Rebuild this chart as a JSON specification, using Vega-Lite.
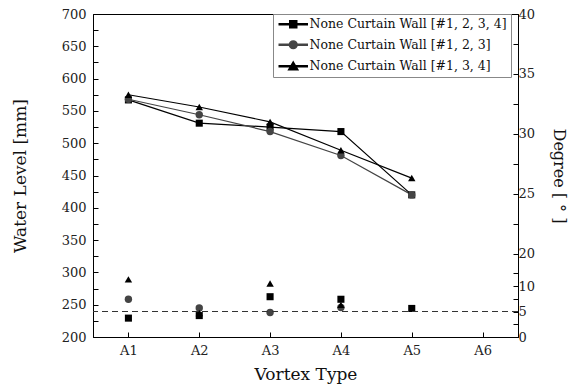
{
  "$schema": "https://vega.github.io/schema/vega-lite/v6.json",
  "width": 425,
  "height": 323,
  "autosize": {"type": "none"},
  "padding": {"left": 93, "top": 14, "right": 64, "bottom": 53},
  "background": "white",
  "config": {
    "font": "DejaVu Serif",
    "view": {"stroke": "#000", "strokeWidth": 1},
    "axis": {
      "grid": false,
      "domainColor": "#000",
      "tickColor": "#000",
      "labelColor": "#222",
      "titleColor": "#111",
      "labelFont": "DejaVu Serif",
      "titleFont": "DejaVu Serif",
      "labelFontSize": 13,
      "titleFontSize": 15,
      "titleFontWeight": "normal",
      "tickSize": -5
    },
    "legend": {
      "orient": "none",
      "legendX": 180,
      "legendY": 0,
      "padding": 4,
      "strokeColor": "#888888",
      "fillColor": "white",
      "symbolSize": 49,
      "symbolOffset": 10,
      "labelOffset": 10,
      "labelFontSize": 12.5,
      "labelFont": "DejaVu Serif",
      "labelColor": "#111111",
      "labelLimit": 0,
      "rowPadding": 6.5
    }
  },
  "data": {
    "values": [
      {"s": "None Curtain Wall [#1, 2, 3, 4]", "x": "A1", "wl": 567, "deg": 3.7},
      {"s": "None Curtain Wall [#1, 2, 3, 4]", "x": "A2", "wl": 531, "deg": 4.2},
      {"s": "None Curtain Wall [#1, 2, 3, 4]", "x": "A3", "wl": 525, "deg": 7.9},
      {"s": "None Curtain Wall [#1, 2, 3, 4]", "x": "A4", "wl": 518, "deg": 7.4},
      {"s": "None Curtain Wall [#1, 2, 3, 4]", "x": "A5", "wl": 420, "deg": 5.6},
      {"s": "None Curtain Wall [#1, 2, 3]", "x": "A1", "wl": 568, "deg": 7.4},
      {"s": "None Curtain Wall [#1, 2, 3]", "x": "A2", "wl": 544, "deg": 5.7},
      {"s": "None Curtain Wall [#1, 2, 3]", "x": "A3", "wl": 518, "deg": 4.8},
      {"s": "None Curtain Wall [#1, 2, 3]", "x": "A4", "wl": 481, "deg": 5.8},
      {"s": "None Curtain Wall [#1, 2, 3]", "x": "A5", "wl": 420, "deg": null},
      {"s": "None Curtain Wall [#1, 3, 4]", "x": "A1", "wl": 575, "deg": 11.3},
      {"s": "None Curtain Wall [#1, 3, 4]", "x": "A2", "wl": 556, "deg": 4.7},
      {"s": "None Curtain Wall [#1, 3, 4]", "x": "A3", "wl": 533, "deg": 10.5},
      {"s": "None Curtain Wall [#1, 3, 4]", "x": "A4", "wl": 489, "deg": 6.3},
      {"s": "None Curtain Wall [#1, 3, 4]", "x": "A5", "wl": 446, "deg": null}
    ]
  },
  "encoding": {
    "x": {
      "field": "x",
      "type": "nominal",
      "scale": {"type": "point", "padding": 0.5, "domain": ["A1", "A2", "A3", "A4", "A5", "A6"]},
      "axis": {"title": "Vortex Type", "labelAngle": 0, "labelPadding": 12, "titlePadding": 9, "titleFontSize": 17}
    },
    "color": {
      "field": "s",
      "type": "nominal",
      "scale": {"domain": ["None Curtain Wall [#1, 2, 3, 4]", "None Curtain Wall [#1, 2, 3]", "None Curtain Wall [#1, 3, 4]"], "range": ["#000000", "#444444", "#000000"]},
      "legend": {"title": null}
    }
  },
  "layer": [
    {
      "encoding": {
        "y": {
          "field": "wl",
          "type": "quantitative",
          "scale": {"domain": [200, 700], "nice": false, "zero": false},
          "axis": {
            "title": "Water Level [mm]",
            "values": [200, 225, 250, 275, 300, 325, 350, 375, 400, 425, 450, 475, 500, 525, 550, 575, 600, 625, 650, 675, 700],
            "labelExpr": "datum.value % 50 === 0 ? datum.label : ''",
            "labelPadding": 12,
            "titlePadding": 32,
            "titleFontSize": 17
          }
        }
      },
      "layer": [
        {"mark": {"type": "line", "strokeWidth": 1.2}},
        {
          "transform": [{"filter": "datum.s === 'None Curtain Wall [#1, 2, 3, 4]'"}],
          "mark": {"type": "point", "filled": true, "opacity": 1, "size": 50, "shape": "square"}
        },
        {
          "transform": [{"filter": "datum.s === 'None Curtain Wall [#1, 2, 3]'"}],
          "mark": {"type": "point", "filled": true, "opacity": 1, "size": 55, "shape": "circle"}
        },
        {
          "transform": [{"filter": "datum.s === 'None Curtain Wall [#1, 3, 4]'"}],
          "mark": {"type": "point", "filled": true, "opacity": 1, "size": 55, "shape": "triangle-up"}
        },
        {
          "transform": [{"filter": "datum.wl > 100000"}],
          "mark": {"type": "point", "filled": true, "opacity": 1, "size": 49},
          "encoding": {
            "shape": {
              "field": "s",
              "type": "nominal",
              "scale": {
                "domain": ["None Curtain Wall [#1, 2, 3, 4]", "None Curtain Wall [#1, 2, 3]", "None Curtain Wall [#1, 3, 4]"],
                "range": [
                  "M-4,-0.15H4V0.15H-4Z M-1,-1H1V1H-1Z",
                  "M-4,-0.15H4V0.15H-4Z M-1.1,0A1.1,1.1 0 1,0 1.1,0A1.1,1.1 0 1,0 -1.1,0Z",
                  "M-4,-0.15H4V0.15H-4Z M0,-1.2L1.3,1H-1.3Z"
                ]
              },
              "legend": {"title": null}
            }
          }
        }
      ]
    },
    {
      "encoding": {
        "y": {
          "field": "deg",
          "type": "quantitative",
          "scale": {"domain": [0, 15, 20, 40], "range": [323, 246.5, 239.5, 0], "nice": false, "zero": false},
          "axis": {
            "orient": "right",
            "title": "Degree [ ° ]",
            "values": [0, 2.5, 5, 7.5, 10, 12.5, 20, 22.5, 25, 27.5, 30, 32.5, 35, 37.5, 40],
            "labelExpr": "datum.value % 5 === 0 ? datum.label : ''",
            "labelPadding": 5,
            "titlePadding": 16,
            "titleFontSize": 16
          }
        }
      },
      "layer": [
        {
          "transform": [{"filter": "datum.deg != null && datum.s === 'None Curtain Wall [#1, 2, 3, 4]'"}],
          "mark": {"type": "point", "filled": true, "opacity": 1, "size": 50, "shape": "square"}
        },
        {
          "transform": [{"filter": "datum.deg != null && datum.s === 'None Curtain Wall [#1, 2, 3]'"}],
          "mark": {"type": "point", "filled": true, "opacity": 1, "size": 55, "shape": "circle"}
        },
        {
          "transform": [{"filter": "datum.deg != null && datum.s === 'None Curtain Wall [#1, 3, 4]'"}],
          "mark": {"type": "point", "filled": true, "opacity": 1, "size": 55, "shape": "triangle-up"}
        },
        {
          "data": {"values": [{"deg": 5}]},
          "mark": {"type": "rule", "strokeDash": [6, 4], "color": "#333333", "strokeWidth": 1},
          "encoding": {"x": null, "color": null}
        }
      ]
    }
  ],
  "resolve": {"scale": {"y": "independent"}}
}
